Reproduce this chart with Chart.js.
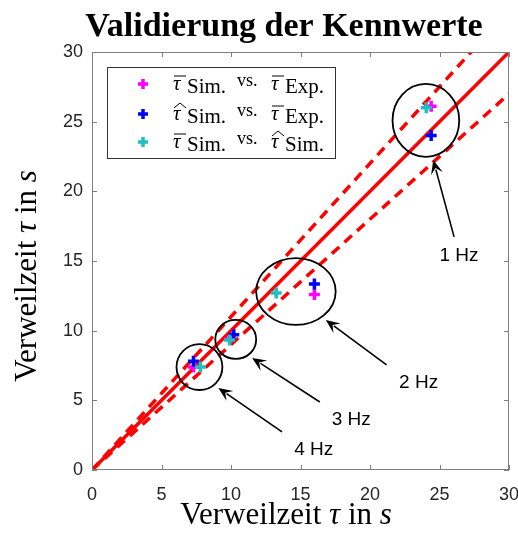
<!DOCTYPE html>
<html>
<head>
<meta charset="utf-8">
<script src="https://cdn.jsdelivr.net/npm/chart.js@4"></script>
<style>
html, body { margin: 0; padding: 0; background: #fff; }
#wrap { width: 518px; height: 534px; }
</style>
</head>
<body>
<div id="wrap"><canvas id="validChart"></canvas></div>
<script>
// Messpunkte je Frequenz (1 Hz, 2 Hz, 3 Hz, 4 Hz)
const barSimX = [24.4, 16.0, 9.9, 7.3];
const barSimY = [26.1, 12.6, 9.4, 7.4];
const hatSimX = [24.4, 16.0, 10.2, 7.3];
const hatSimY = [24.0, 13.35, 9.7, 7.8];
const simSimX = [24.05, 13.25, 9.9, 7.8];
const simSimY = [26.0, 12.7, 9.33, 7.4];

// Winkelhalbierende und +-10 % Grenzen
const refX = [0, 30];
const refY = [0, 30];
const upperX = [0, 27.27];
const upperY = [0, 30];
const lowerX = [0, 30];
const lowerY = [0, 27];

const tickValues = [0, 5, 10, 15, 20, 25, 30];

// Kreise, Pfeile und Beschriftungen (Datenkoordinaten)
const freqLabels = ["1 Hz", "2 Hz", "3 Hz", "4 Hz"];
const circleX = [24.02, 14.67, 10.34, 7.73];
const circleY = [25.09, 12.81, 9.37, 7.39];
const circleRx = [2.40, 2.86, 1.47, 1.65];
const circleRy = [2.62, 2.40, 1.40, 1.65];
const arrowTipX = [24.55, 16.82, 11.52, 9.09];
const arrowTipY = [22.25, 10.77, 8.04, 5.89];
const arrowTailX = [26.05, 21.19, 16.39, 13.67];
const arrowTailY = [16.73, 7.54, 4.88, 2.73];
const labelX = [26.4, 23.5, 18.65, 15.95];
const labelY = [15.35, 6.25, 3.6, 1.45];

const colMagenta = "#ff00ff";
const colBlue = "#0000ff";
const colCyan = "#1fbfbf";

function pts(xs, ys) {
	return xs.map((v, i) => ({ x: v, y: ys[i] }));
}

function drawPlus(ctx, px, py, r, color) {
	ctx.save();
	ctx.strokeStyle = color;
	ctx.lineWidth = 3.5;
	ctx.beginPath();
	ctx.moveTo(px - r, py);
	ctx.lineTo(px + r, py);
	ctx.moveTo(px, py - r);
	ctx.lineTo(px, py + r);
	ctx.stroke();
	ctx.restore();
}

// tau mit Strich oder Dach
function drawTau(ctx, px, base, accent) {
	ctx.font = 'italic 21px "Liberation Serif"';
	ctx.fillText("\u03c4", px, base);
	ctx.beginPath();
	if (accent === "bar") {
		ctx.moveTo(px + 1, base - 14);
		ctx.lineTo(px + 13, base - 14);
	} else {
		ctx.moveTo(px + 1, base - 12);
		ctx.lineTo(px + 7, base - 17);
		ctx.lineTo(px + 13, base - 12);
	}
	ctx.stroke();
}

const framePlugin = {
	id: "frame",
	afterDatasetsDraw(chart) {
		const { ctx, chartArea: a, scales: { x, y } } = chart;
		ctx.save();
		ctx.strokeStyle = "#7f7f7f";
		ctx.lineWidth = 1;
		ctx.strokeRect(a.left + 0.5, a.top + 0.5, a.right - a.left - 1, a.bottom - a.top - 1);
		ctx.beginPath();
		tickValues.forEach((v) => {
			const px = Math.round(x.getPixelForValue(v)) + 0.5;
			ctx.moveTo(px, a.bottom);
			ctx.lineTo(px, a.bottom - 5);
			ctx.moveTo(px, a.top);
			ctx.lineTo(px, a.top + 5);
			const py = Math.round(y.getPixelForValue(v)) + 0.5;
			ctx.moveTo(a.left, py);
			ctx.lineTo(a.left + 5, py);
			ctx.moveTo(a.right, py);
			ctx.lineTo(a.right - 5, py);
		});
		ctx.stroke();

		// Kreise und Pfeile
		ctx.strokeStyle = "#000";
		ctx.fillStyle = "#000";
		for (let i = 0; i < freqLabels.length; i++) {
			const cx = x.getPixelForValue(circleX[i]);
			const cy = y.getPixelForValue(circleY[i]);
			const rx = x.getPixelForValue(circleX[i] + circleRx[i]) - cx;
			const ry = cy - y.getPixelForValue(circleY[i] + circleRy[i]);
			ctx.lineWidth = 1.8;
			ctx.beginPath();
			ctx.ellipse(cx, cy, rx, ry, 0, 0, 2 * Math.PI);
			ctx.stroke();

			const tx = x.getPixelForValue(arrowTipX[i]);
			const ty = y.getPixelForValue(arrowTipY[i]);
			const sx = x.getPixelForValue(arrowTailX[i]);
			const sy = y.getPixelForValue(arrowTailY[i]);
			const ang = Math.atan2(ty - sy, tx - sx);
			const len = 14, wid = 6;
			const bx = tx - len * Math.cos(ang), by = ty - len * Math.sin(ang);
			ctx.lineWidth = 1.6;
			ctx.beginPath();
			ctx.moveTo(sx, sy);
			ctx.lineTo(bx + 4 * Math.cos(ang), by + 4 * Math.sin(ang));
			ctx.stroke();
			ctx.beginPath();
			ctx.moveTo(tx, ty);
			ctx.lineTo(bx - wid * Math.sin(ang), by + wid * Math.cos(ang));
			ctx.lineTo(tx - 0.6 * len * Math.cos(ang), ty - 0.6 * len * Math.sin(ang));
			ctx.lineTo(bx + wid * Math.sin(ang), by - wid * Math.cos(ang));
			ctx.closePath();
			ctx.fill();

			ctx.font = '19px "Liberation Sans"';
			ctx.fillStyle = "#000";
			ctx.textAlign = "center";
			ctx.textBaseline = "middle";
			ctx.fillText(freqLabels[i], x.getPixelForValue(labelX[i]), y.getPixelForValue(labelY[i]));
		}
		ctx.restore();
	},
	afterDraw(chart) {
		const { ctx } = chart;
		ctx.save();
		ctx.fillStyle = "#000";
		ctx.textAlign = "center";
		ctx.textBaseline = "alphabetic";
		ctx.font = 'bold 34px "Liberation Serif"';
		ctx.fillText("Validierung der Kennwerte", 284, 36);

		// Achsentitel
		const fs = 31;
		ctx.textAlign = "left";
		const xParts = [["Verweilzeit ", ""], ["\u03c4", "italic "], [" in ", ""], ["s", "italic "]];
		let w = 0;
		xParts.forEach((p) => { ctx.font = p[1] + fs + 'px "Liberation Serif"'; w += ctx.measureText(p[0]).width; });
		let px = 286 - w / 2;
		xParts.forEach((p) => {
			ctx.font = p[1] + fs + 'px "Liberation Serif"';
			ctx.fillText(p[0], px, 524);
			px += ctx.measureText(p[0]).width;
		});
		ctx.save();
		ctx.translate(36, 276);
		ctx.rotate(-Math.PI / 2);
		px = -w / 2;
		xParts.forEach((p) => {
			ctx.font = p[1] + fs + 'px "Liberation Serif"';
			ctx.fillText(p[0], px, 0);
			px += ctx.measureText(p[0]).width;
		});
		ctx.restore();

		// Legende
		ctx.fillStyle = "#fff";
		ctx.fillRect(107, 67, 228, 91);
		ctx.strokeStyle = "#333";
		ctx.lineWidth = 1;
		ctx.strokeRect(107.5, 67.5, 228, 91);
		const rows = [
			[84, colMagenta, "bar", "bar", "Exp."],
			[114, colBlue, "hat", "bar", "Exp."],
			[142, colCyan, "bar", "hat", "Sim."],
		];
		rows.forEach((r) => {
			const yy = r[0];
			drawPlus(ctx, 143, yy, 5, r[1]);
			ctx.fillStyle = "#000";
			ctx.strokeStyle = "#000";
			ctx.lineWidth = 1;
			ctx.textAlign = "left";
			drawTau(ctx, 173, yy + 6, r[2]);
			ctx.font = '21px "Liberation Serif"';
			ctx.fillText("Sim.", 187, yy + 9);
			ctx.font = '18px "Liberation Serif"';
			ctx.fillText("vs.", 237, yy + 2);
			drawTau(ctx, 271, yy + 6, r[3]);
			ctx.font = '21px "Liberation Serif"';
			ctx.fillText(r[4], 285, yy + 9);
		});
		ctx.restore();
	},
};

const canvas = document.getElementById("validChart").getContext("2d");

const validChart = new Chart(canvas, {
	type: "scatter",
	data: {
		datasets: [
			{
				label: "tauBar Sim vs tauBar Exp",
				data: pts(barSimX, barSimY),
				pointStyle: "cross",
				pointRadius: 5.5,
				pointBorderWidth: 3.5,
				borderColor: colMagenta,
				backgroundColor: colMagenta,
				order: 3,
			},
			{
				label: "tauHat Sim vs tauBar Exp",
				data: pts(hatSimX, hatSimY),
				pointStyle: "cross",
				pointRadius: 5.5,
				pointBorderWidth: 3.5,
				borderColor: colBlue,
				backgroundColor: colBlue,
				order: 2,
			},
			{
				label: "tauBar Sim vs tauHat Sim",
				data: pts(simSimX, simSimY),
				pointStyle: "cross",
				pointRadius: 5.5,
				pointBorderWidth: 3.5,
				borderColor: colCyan,
				backgroundColor: colCyan,
				order: 1,
			},
			{
				label: "ideal",
				data: pts(refX, refY),
				showLine: true,
				pointRadius: 0,
				borderColor: "#ff0000",
				borderWidth: 3.5,
				order: 10,
			},
			{
				label: "+10 %",
				data: pts(upperX, upperY),
				showLine: true,
				pointRadius: 0,
				borderColor: "#ff0000",
				borderWidth: 3.5,
				borderDash: [10, 7],
				order: 11,
			},
			{
				label: "-10 %",
				data: pts(lowerX, lowerY),
				showLine: true,
				pointRadius: 0,
				borderColor: "#ff0000",
				borderWidth: 3.5,
				borderDash: [10, 7],
				order: 12,
			},
		],
	},
	options: {
		responsive: true,
		maintainAspectRatio: false,
		animation: false,
		layout: { padding: { top: 52, right: 7, left: 0, bottom: 0 } },
		plugins: {
			legend: { display: false },
			tooltip: { enabled: false },
		},
		scales: {
			x: {
				type: "linear",
				min: 0,
				max: 30,
				grid: { display: false },
				border: { display: false },
				ticks: {
					stepSize: 5,
					padding: 6,
					color: "#262626",
					font: { family: "Liberation Sans", size: 18 },
					maxRotation: 0,
				},
				afterFit(scale) {
					scale.height = 64;
					scale.paddingLeft = 0;
					scale.paddingRight = 0;
				},
			},
			y: {
				type: "linear",
				min: 0,
				max: 30,
				grid: { display: false },
				border: { display: false },
				ticks: {
					stepSize: 5,
					padding: 1,
					color: "#262626",
					font: { family: "Liberation Sans", size: 18 },
				},
				afterFit(scale) {
					scale.width = 92;
					scale.paddingTop = 0;
					scale.paddingBottom = 0;
				},
			},
		},
	},
	plugins: [framePlugin],
});
</script>
</body>
</html>
